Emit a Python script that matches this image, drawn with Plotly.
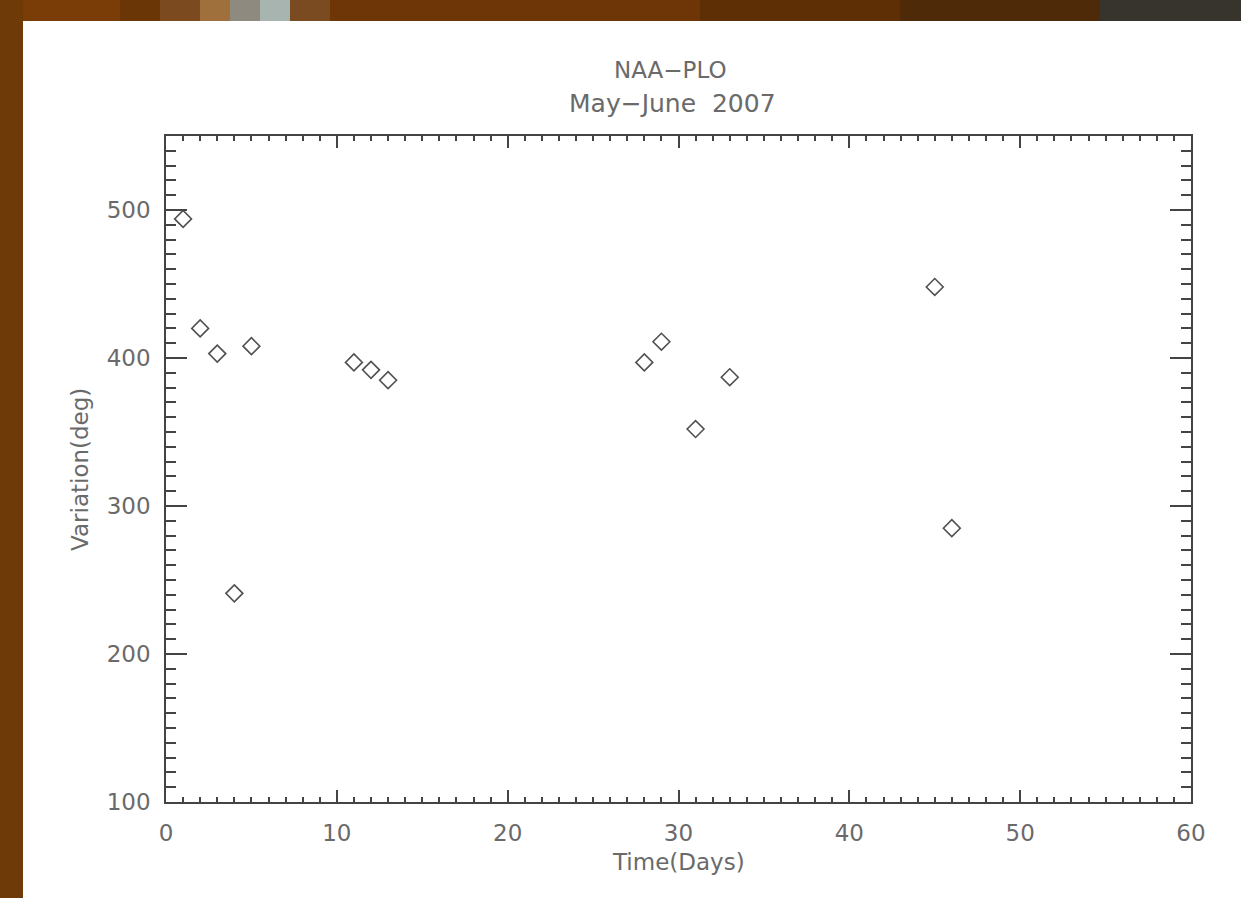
import plotly.graph_objects as go

days = [1, 2, 3, 4, 5, 11, 12, 13, 28, 29, 31, 33, 45, 46]
variation = [494, 420, 403, 241, 408, 397, 392, 385, 397, 411, 352, 387, 448, 285]

x_ticks = [0, 10, 20, 30, 40, 50, 60]
y_ticks = [100, 200, 300, 400, 500]

title_lines = ["NAA\u2212PLO", "May\u2212June  2007"]
x_title = "Time(Days)"
y_title = "Variation(deg)"

W, H = 1241, 898
L, R, T, B = 166, 50, 136, 96
pw, ph = W - L - R, H - T - B

def px2x(px):
    return (px - L) / pw

def py2y(py):
    return (H - B - py) / ph

axis_col = "#444444"
text_col = "#6a6a6a"
font_fam = "DejaVu Sans, sans-serif"
fs = 23

fig = go.Figure()
fig.add_trace(go.Scatter(
    x=days, y=variation, mode="markers",
    marker=dict(symbol="diamond-open", size=13, color="#505050",
                line=dict(width=1.6, color="#505050")),
    showlegend=False, hoverinfo="x+y",
))

shapes = [
    dict(type="rect", xref="paper", yref="paper", layer="below",
         x0=px2x(23), x1=px2x(W + 10), y0=py2y(H + 10), y1=py2y(21),
         fillcolor="white", line=dict(width=0)),
]
# colours of the backdrop photo along the top edge
strip = [(0, 120, "#7a3d08"), (120, 160, "#6a3606"), (160, 200, "#7b4a1e"),
         (200, 230, "#a0703c"), (230, 260, "#8f8a80"), (260, 290, "#a8b4b0"),
         (290, 330, "#7a4a20"), (330, 700, "#6e3606"), (700, 900, "#5e2e04"),
         (900, 1100, "#4e2a08"), (1100, 1241, "#36342c")]
for a, b, c in strip:
    shapes.append(dict(type="rect", xref="paper", yref="paper", layer="below",
                       x0=px2x(max(a, 23)), x1=px2x(b),
                       y0=py2y(21), y1=py2y(-5),
                       fillcolor=c, line=dict(width=0)))

def ann(text, xpx, ypx, angle=0, size=fs):
    return dict(text=text, x=px2x(xpx), y=py2y(ypx), xref="paper", yref="paper",
                showarrow=False, textangle=angle,
                font=dict(family=font_fam, size=size, color=text_col),
                xanchor="center", yanchor="middle")

annotations = [
    ann(title_lines[0], 670, 70),
    ann(title_lines[1], 672, 103, size=25),
    ann(x_title, 678, 862),
    ann(y_title, 80, 470, -90),
]

fig.update_layout(
    width=W, height=H,
    margin=dict(l=L, r=R, t=T, b=B, pad=0),
    paper_bgcolor="#6e3a08",
    plot_bgcolor="white",
    shapes=shapes,
    annotations=annotations,
    font=dict(family=font_fam, color=text_col, size=fs),
)

fig.update_xaxes(
    range=[0, 60], tickvals=x_ticks, ticks="inside", ticklen=12, tickwidth=1.5,
    tickcolor=axis_col, showline=True, linecolor=axis_col, linewidth=1.5,
    mirror="ticks", showgrid=False, zeroline=False,
    minor=dict(dtick=1, ticks="inside", ticklen=5, tickwidth=1.5, tickcolor=axis_col, showgrid=False),
    tickfont=dict(size=fs, color=text_col), ticklabelstandoff=10,
)
fig.update_yaxes(
    range=[100, 550], tickvals=y_ticks, ticks="inside", ticklen=21, tickwidth=1.5,
    tickcolor=axis_col, showline=True, linecolor=axis_col, linewidth=1.5,
    mirror="ticks", showgrid=False, zeroline=False,
    minor=dict(dtick=10, ticks="inside", ticklen=10, tickwidth=1.5, tickcolor=axis_col, showgrid=False),
    tickfont=dict(size=fs, color=text_col), ticklabelstandoff=9,
)

fig.write_html("out.html", config={"displayModeBar": False},
               post_script="document.body.style.margin='0';")
